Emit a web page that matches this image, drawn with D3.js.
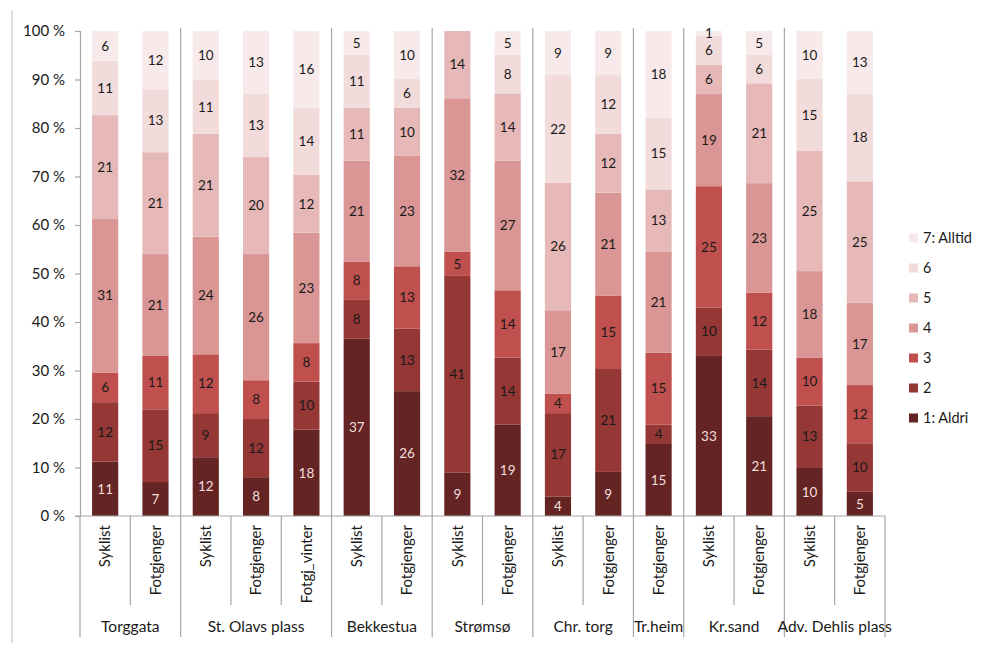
<!DOCTYPE html>
<html>
<head>
<meta charset="utf-8">
<script src="https://cdn.jsdelivr.net/npm/d3@7"></script>
<style>
  html, body { margin: 0; padding: 0; background: #fff; }
  svg { display: block; font-family: Lato, "Open Sans", sans-serif; }
</style>
</head>
<body>
<svg id="chart" width="998" height="649"></svg>
<script>
// ---- data ----
const categories = ["Syklist","Fotgjenger","Syklist","Fotgjenger","Fotgj_vinter","Syklist","Fotgjenger","Syklist","Fotgjenger","Syklist","Fotgjenger","Fotgjenger","Syklist","Fotgjenger","Syklist","Fotgjenger"];
const groups = ["Torggata","St. Olavs plass","Bekkestua","Strømsø","Chr. torg","Tr.heim","Kr.sand","Adv. Dehlis plass"];
const groupSizes = [2,3,2,2,2,1,2,2];
const seriesNames = ["1: Aldri","2","3","4","5","6","7: Alltid"];
const s1 = [11,7,12,8,18,37,26,9,19,4,9,15,33,21,10,5];
const s2 = [12,15,9,12,10,8,13,41,14,17,21,4,10,14,13,10];
const s3 = [6,11,12,8,8,8,13,5,14,4,15,15,25,12,10,12];
const s4 = [31,21,24,26,23,21,23,32,27,17,21,21,19,23,18,17];
const s5 = [21,21,21,20,12,11,10,14,14,26,12,13,6,21,25,25];
const s6 = [11,13,11,13,14,11,6,0,8,22,12,15,6,6,15,18];
const s7 = [6,12,10,13,16,5,10,0,5,9,9,18,1,5,10,13];
const yTicks = [0,0.1,0.2,0.3,0.4,0.5,0.6,0.7,0.8,0.9,1];

const seriesValues = [s1,s2,s3,s4,s5,s6,s7];
const colors = ["#632423","#953735","#c0504d","#d99694","#e6b9b8","#f2dcdb","#f8eaea"];
const labelColors = ["#f3dede","#1a1a1a","#1a1a1a","#1a1a1a","#1a1a1a","#1a1a1a","#1a1a1a"];

// table built from arrays
const rows = categories.map((c, i) => {
  const r = { key: i, cat: c };
  seriesNames.forEach((s, k) => r[s] = seriesValues[k][i]);
  return r;
});

const svg = d3.select("#chart");
const plotLeft = 80, plotRight = 885, plotTop = 31, plotBottom = 516;

const x = d3.scaleBand().domain(rows.map(r => r.key)).range([plotLeft, plotRight]).paddingInner(0.48).paddingOuter(0.24);
const y = d3.scaleLinear().domain([0, 1]).range([plotBottom, plotTop]);
const color = d3.scaleOrdinal().domain(seriesNames).range(colors);

const stack = d3.stack().keys(seriesNames).offset(d3.stackOffsetExpand);
const stacked = stack(rows);

// outer left border line
svg.append("line").attr("x1", 12).attr("x2", 12).attr("y1", 10).attr("y2", 643)
  .attr("stroke", "#c8c8c8").attr("stroke-width", 1.2);

let acc = 0;
const groupBounds = [];
groupSizes.forEach((n) => { groupBounds.push([acc, acc + n]); acc += n; });
const sepX = i => plotLeft + i * (plotRight - plotLeft) / categories.length;

// bars
const layer = svg.append("g");
stacked.forEach((ser) => {
  layer.selectAll(null).data(ser).enter().append("rect")
    .attr("x", d => x(d.data.key))
    .attr("width", x.bandwidth())
    .attr("y", d => y(d[1]))
    .attr("height", d => y(d[0]) - y(d[1]))
    .attr("fill", color(ser.key));
});

// value labels
stacked.forEach((ser, k) => {
  layer.selectAll(null).data(ser.filter(d => d.data[ser.key] > 0)).enter().append("text")
    .attr("x", d => x(d.data.key) + x.bandwidth() / 2)
    .attr("y", d => (y(d[0]) + y(d[1])) / 2)
    .attr("dy", "0.35em")
    .attr("text-anchor", "middle")
    .attr("font-size", 13.5)
    .attr("fill", labelColors[k])
    .text(d => d.data[ser.key]);
});

// group separator lines
groupBounds.forEach(([a], g) => {
  if (g > 0) {
    svg.append("line").attr("x1", sepX(a)).attr("x2", sepX(a)).attr("y1", 28).attr("y2", 637)
      .attr("stroke", "#a6a6a6").attr("stroke-width", 1.2);
  }
});
[0, categories.length].forEach(i => {
  svg.append("line").attr("x1", sepX(i)).attr("x2", sepX(i)).attr("y1", plotBottom).attr("y2", 637)
    .attr("stroke", "#a6a6a6").attr("stroke-width", 1.2);
});
groupBounds.forEach(([a, b]) => {
  for (let i = a + 1; i < b; i++) {
    svg.append("line").attr("x1", sepX(i)).attr("x2", sepX(i)).attr("y1", plotBottom).attr("y2", 605)
      .attr("stroke", "#a6a6a6").attr("stroke-width", 1.2);
  }
});

// y axis
const yAxis = svg.append("g").attr("transform", `translate(${plotLeft},0)`)
  .call(d3.axisLeft(y).tickValues(yTicks).tickSize(5).tickPadding(10)
    .tickFormat(d => Math.round(d * 100) + " %"));
yAxis.select(".domain").attr("stroke", "#a6a6a6").attr("stroke-width", 1.2);
yAxis.selectAll(".tick line").attr("stroke", "#a6a6a6").attr("stroke-width", 1.2);
yAxis.selectAll(".tick text").attr("font-size", 15).attr("fill", "#1a1a1a")
  .attr("font-family", "Lato, 'Open Sans', sans-serif");

// x axis line
svg.append("line").attr("x1", plotLeft - 5).attr("x2", plotRight).attr("y1", plotBottom).attr("y2", plotBottom)
  .attr("stroke", "#a6a6a6").attr("stroke-width", 1.2);

// category labels (rotated)
svg.selectAll(".cat").data(rows).enter().append("text")
  .attr("class", "cat")
  .attr("transform", d => `translate(${x(d.key) + x.bandwidth() / 2},525) rotate(-90)`)
  .attr("dy", "0.35em")
  .attr("text-anchor", "end")
  .attr("font-size", 15)
  .attr("fill", "#1a1a1a")
  .text(d => d.cat);

// group labels
svg.selectAll(".grp").data(groups).enter().append("text")
  .attr("class", "grp")
  .attr("x", (g, i) => (sepX(groupBounds[i][0]) + sepX(groupBounds[i][1])) / 2)
  .attr("y", 632)
  .attr("text-anchor", "middle")
  .attr("font-size", 15.5)
  .attr("fill", "#1a1a1a")
  .text(g => g);

// legend
const legendItems = seriesNames.slice().reverse();
const leg = svg.append("g");
legendItems.forEach((s, i) => {
  const cy = 238 + i * 30;
  leg.append("rect").attr("x", 909).attr("y", cy - 4.5).attr("width", 9).attr("height", 9).attr("fill", color(s));
  leg.append("text").attr("x", 923).attr("y", cy).attr("dy", "0.35em")
    .attr("font-size", 14.5).attr("fill", "#1a1a1a").text(s);
});
</script>
</body>
</html>
